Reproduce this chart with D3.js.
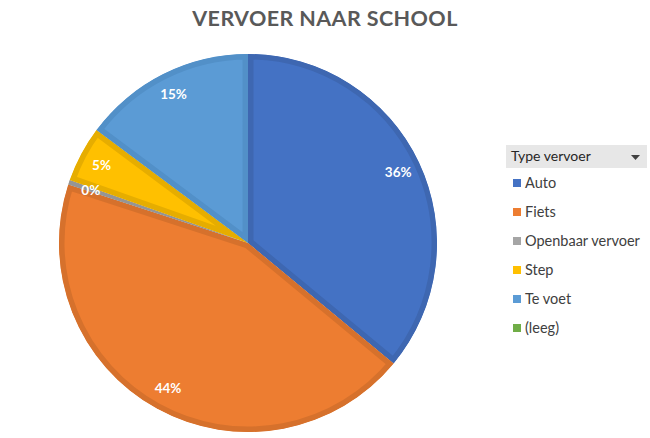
<!DOCTYPE html>
<html><head><meta charset="utf-8">
<script src="https://cdn.jsdelivr.net/npm/d3@7"></script>
<style>
body{margin:0;background:#fff;}
svg{display:block;font-family:Lato,"Open Sans",sans-serif;}
</style></head>
<body>
<svg id="c" width="650" height="438"></svg>
<script>
const title = "VERVOER NAAR SCHOOL";
const legendTitle = "Type vervoer";
const categories = ["Auto","Fiets","Openbaar vervoer","Step","Te voet","(leeg)"];
const values = [36, 44, 0.4, 4.8, 14.8, 0];
const fillColors = ["#4472C4","#ED7D31","#A5A5A5","#FFC000","#5B9BD5","#70AD47"];
const borderColors = ["#3E67B1","#D6712C","#959595","#E6AD00","#5290C8","#65A040"];

const svg = d3.select("#c");
const cx = 248, cy = 243, R = 189;

svg.append("text").attr("x", 325).attr("y", 26).attr("text-anchor","middle")
  .attr("font-size", 21.5).attr("font-weight", 700).attr("fill","#595959")
  .attr("letter-spacing", 0.4).text(title);

const data = categories.map((c,i)=>({cat:c, value:values[i], i}));
const pie = d3.pie().sort(null).value(d=>d.value);
const arcs = pie(data).filter(a=>a.data.value>0);
const arc = d3.arc().innerRadius(0).outerRadius(R);
const labelArc = d3.arc().innerRadius(166).outerRadius(166);

const g = svg.append("g").attr("transform",`translate(${cx},${cy})`);
const defs = svg.append("defs");
arcs.forEach((a,k)=>{
  defs.append("clipPath").attr("id","clip"+k).append("path").attr("d", arc(a));
});
g.selectAll("path.slice").data(arcs).join("path").attr("class","slice")
  .attr("d", arc).attr("fill", d=>fillColors[d.data.i])
  .attr("stroke", d=>borderColors[d.data.i]).attr("stroke-width", 11)
  .attr("stroke-linejoin","miter")
  .attr("clip-path", (d,k)=>`url(#clip${k})`);

const fmt = d3.format(".0%");
const total = d3.sum(values);
g.selectAll("text.lbl").data(arcs).join("text").attr("class","lbl")
  .attr("transform", d=>`translate(${labelArc.centroid(d)})`)
  .attr("text-anchor","middle").attr("dy","0.36em")
  .attr("font-size", 13.5).attr("font-weight", 700).attr("fill","#fff")
  .text(d=>fmt(d.data.value/total));

// legend
const lg = svg.append("g");
lg.append("rect").attr("x",506).attr("y",145).attr("width",141).attr("height",23).attr("fill","#E7E7E7");
lg.append("text").attr("x",511).attr("y",161).attr("font-size",14).attr("fill","#262626").text(legendTitle);
lg.append("path").attr("d","M631,155 L640,155 L635.5,160 Z").attr("fill","#404040");
const ly = d3.scalePoint().domain(categories).range([183, 328]);
const items = lg.selectAll("g.item").data(categories).join("g").attr("class","item")
  .attr("transform", d=>`translate(0,${ly(d)})`);
items.append("rect").attr("x",513).attr("y",-4).attr("width",8).attr("height",8)
  .attr("fill",(d,i)=>fillColors[i]);
items.append("text").attr("x",525).attr("y",5).attr("font-size",14.5).attr("fill","#404040").text(d=>d);
</script>
</body></html>
